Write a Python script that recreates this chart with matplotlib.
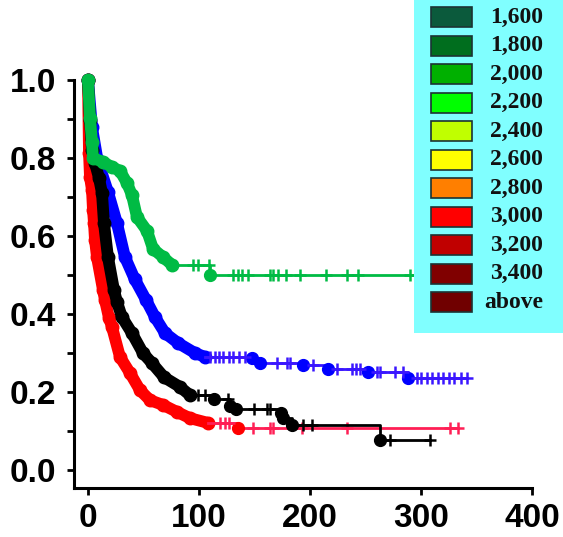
import matplotlib
matplotlib.use("Agg")
import matplotlib.pyplot as plt
import numpy as np
from matplotlib.patches import Rectangle

# ---- data (time, survival) ----
x_ticks = [0, 100, 200, 300, 400]
y_ticks = [0.0, 0.2, 0.4, 0.6, 0.8, 1.0]
y_minor = [0.1, 0.3, 0.5, 0.7, 0.9]

# blue group
blue_band_t = [0, 3.6, 8.6, 18, 26.1, 33.3, 42, 52.3, 60.4, 69.4, 81, 96.4, 105.4]
blue_band_s = [1.0, 0.879, 0.795, 0.713, 0.633, 0.546, 0.49, 0.436, 0.392, 0.351, 0.326, 0.30, 0.29]
blue_tail_t = [148, 155, 194, 216, 252, 288]
blue_tail_s = [0.287, 0.274, 0.269, 0.259, 0.251, 0.236]
blue_cens = [110, 114, 118, 122, 127, 131, 136, 141, 170, 179, 182, 203, 224, 238,
             241, 245, 260, 263, 277, 284, 296, 300, 305, 310, 315, 320, 325, 330, 336, 341]

# red group
red_band_t = [0, 0.9, 1.8, 3.6, 4.5, 5.4, 6.3, 8.1, 13.5, 15.3, 18.9, 21.6, 28.8,
              37.8, 46.8, 55.9, 67.6, 80.2, 91.9, 108]
red_band_s = [1.0, 0.813, 0.751, 0.718, 0.667, 0.633, 0.59, 0.546, 0.462, 0.436, 0.39,
              0.367, 0.29, 0.249, 0.205, 0.179, 0.167, 0.149, 0.133, 0.121]
red_tail_t = [135]
red_tail_s = [0.108]
red_cens = [119, 123, 127, 149, 164, 167, 193, 233, 326, 333]

# black group
black_band_t = [0, 1.8, 3.6, 6.3, 9.9, 12.6, 14.4, 18, 23.4, 26.1, 30.6, 39.6, 49.5,
                57.7, 68.5, 82.9, 91.9]
black_band_s = [1.0, 0.897, 0.82, 0.787, 0.749, 0.71, 0.633, 0.546, 0.462, 0.431, 0.392,
                0.351, 0.30, 0.274, 0.238, 0.213, 0.192]
black_tail_t = [113.5, 128, 133, 174, 176, 184, 263]
black_tail_s = [0.182, 0.164, 0.156, 0.145, 0.133, 0.115, 0.077]
black_cens = [99, 105, 126, 150, 161, 164, 194, 202, 272, 308]

# green group
green_band_t = [0, 1.8, 3.6, 4.5, 13.5, 21.6, 28.8, 35.1, 39.6, 44.1, 53.2, 58.6, 67.6, 75.7]
green_band_s = [1.0, 0.903, 0.841, 0.80, 0.79, 0.777, 0.767, 0.736, 0.705, 0.649, 0.613,
                0.567, 0.546, 0.526]
green_tail_t = [110]
green_tail_s = [0.50]
green_cens = [95, 99, 109, 131, 135, 139, 144, 164, 167, 171, 178, 191, 214, 233, 243,
              290, 310, 330]

# legend (contour-style key)
leg_labels = ["1,600", "1,800", "2,000", "2,200", "2,400", "2,600", "2,800",
              "3,000", "3,200", "3,400", "above"]
leg_colors = ["#0b5a3c", "#006e1e", "#00b000", "#00ff00", "#c0ff00", "#ffff00",
              "#ff7f00", "#ff0000", "#c00000", "#800000", "#700000"]


def step_value(t_ev, s_ev, t):
    idx = np.searchsorted(t_ev, t, side="right") - 1
    return np.asarray(s_ev)[idx]


fig = plt.figure(figsize=(5.63, 5.37), dpi=100)
W, H = 563, 537
ax = fig.add_axes([74 / W, 49 / H, 458 / W, 408 / H])

groups = [
    (blue_band_t, blue_band_s, blue_tail_t, blue_tail_s, blue_cens, "#0000ff", "#3a16ff"),
    (red_band_t, red_band_s, red_tail_t, red_tail_s, red_cens, "#ff0000", "#ff1f55"),
    (black_band_t, black_band_s, black_tail_t, black_tail_s, black_cens, "#000000", "#000000"),
    (green_band_t, green_band_s, green_tail_t, green_tail_s, green_cens, "#00bb44", "#00bb44"),
]

for z, (bt, bs, tt, ts, ct, col, ccol) in enumerate(groups):
    zo = 3 + z
    all_t = bt + tt
    all_s = bs + ts
    # dense part: heavy band of overlapping dots
    ax.plot(bt, bs, color=col, lw=8.5, solid_capstyle="round",
            solid_joinstyle="round", zorder=zo, clip_on=False)
    ax.plot(bt, bs, "o", color=col, ms=9, zorder=zo, clip_on=False)
    # sparse tail: step line, event dots, censor marks
    end = max(ct)
    xs = [bt[-1]] + tt + [end]
    ys = [bs[-1]] + ts + [all_s[-1]]
    ax.plot(xs, ys, drawstyle="steps-post", color=ccol, lw=2.0, zorder=zo)
    ax.plot(tt, ts, "o", color=col, ms=8.5, zorder=zo)
    cs = step_value(all_t, all_s, ct)
    ax.plot(ct, cs, "+", color=ccol, ms=9, mew=1.8, zorder=zo)

ax.set_xlim(-12.6, 400)
ax.set_ylim(-0.046, 1.0)
for side in ["top", "right"]:
    ax.spines[side].set_visible(False)
for side in ["left", "bottom"]:
    ax.spines[side].set_linewidth(2.2)

ax.set_xticks(x_ticks)
ax.set_xticklabels([str(v) for v in x_ticks])
ax.set_yticks(y_ticks)
ax.set_yticklabels([f"{v:.1f}" for v in y_ticks])
ax.set_yticks(y_minor, minor=True)
ax.tick_params(which="both", direction="out", length=5, width=2)
ax.tick_params(axis="y", pad=8)
ax.tick_params(axis="x", pad=6)
for lab in ax.get_xticklabels() + ax.get_yticklabels():
    lab.set_fontfamily("Liberation Sans")
    lab.set_fontweight("bold")
    lab.set_fontsize(24)

# cyan key box in the upper right
lax = fig.add_axes([414 / W, (H - 333) / H, 149 / W, 333 / H], zorder=10)
lax.set_facecolor("#80ffff")
lax.set_xlim(0, 149)
lax.set_ylim(333, 0)
lax.set_xticks([])
lax.set_yticks([])
for sp in lax.spines.values():
    sp.set_visible(False)
for i, (lab, c) in enumerate(zip(leg_labels, leg_colors)):
    yc = 17 + i * 28.5
    lax.add_patch(Rectangle((16.7, yc - 10), 41, 20, facecolor=c,
                            edgecolor="#1c3333", lw=1.2))
    lax.text(129, yc, lab, ha="right", va="center", fontsize=17,
             fontweight="bold", family="Liberation Serif", color="#111111")

fig.savefig("out.png", dpi=100)
